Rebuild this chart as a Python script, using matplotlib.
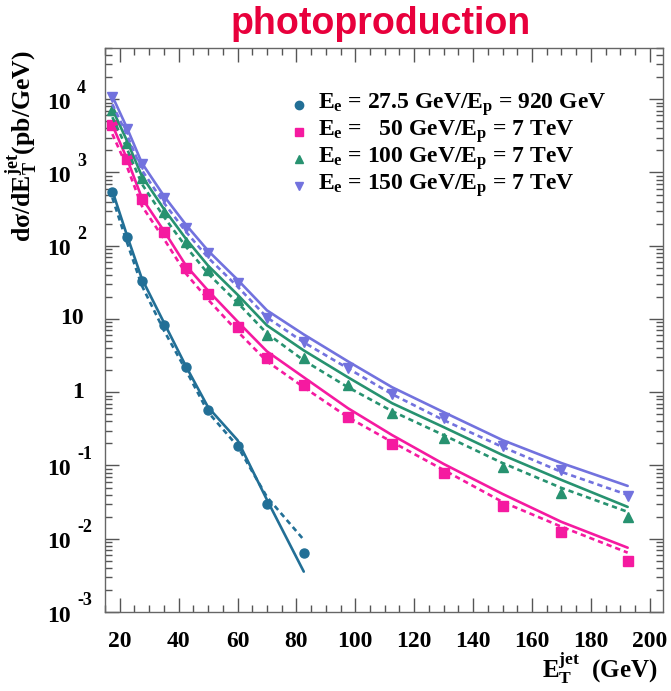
import matplotlib
matplotlib.use("Agg")
import matplotlib.pyplot as plt
from matplotlib.ticker import MultipleLocator, LogLocator, NullFormatter

plt.rcParams["mathtext.fontset"] = "custom"
plt.rcParams["mathtext.rm"] = "Liberation Serif:bold"
plt.rcParams["mathtext.it"] = "Liberation Serif:bold:italic"
plt.rcParams["mathtext.bf"] = "Liberation Serif:bold"

SERIF = "Liberation Serif"

# Jet transverse energy bin centres (GeV)
et_hera = [17.5, 22.5, 27.5, 35, 42.5, 50, 60, 70, 82.5]
et_lhec = [17.5, 22.5, 27.5, 35, 42.5, 50, 60, 70, 82.5, 97.5, 112.5, 130, 150, 170, 192.5]

# Ee = 27.5 GeV / Ep = 920 GeV
hera_pts = [543, 132, 33.4, 8.17, 2.19, 0.569, 0.184, 0.0299, 0.00646]
hera_solid = [562, 137, 35.6, 8.95, 2.26, 0.625, 0.222, 0.0340, 0.00356]
hera_dash = [450, 110, 28.6, 6.98, 1.99, 0.535, 0.184, 0.0372, 0.00968]

# Ee = 50 GeV / Ep = 7 TeV
e50_pts = [4430, 1530, 436, 155, 50.2, 22.2, 7.66, 2.90, 1.245, 0.457, 0.196, 0.0791, 0.0281, 0.0124, 0.00502]
e50_solid = [4430, 1530, 450, 160, 53.5, 24.4, 9.25, 3.61, 1.60, 0.605, 0.260, 0.105, 0.0409, 0.0170, 0.00755]
e50_dash = [3340, 1190, 350, 124, 41.6, 18.4, 6.76, 2.64, 1.17, 0.457, 0.209, 0.0869, 0.0318, 0.0146, 0.00646]

# Ee = 100 GeV / Ep = 7 TeV
e100_pts = [7080, 2520, 841, 290, 113, 47.1, 18.4, 5.97, 2.90, 1.245, 0.518, 0.237, 0.0955, 0.0423, 0.0199]
e100_solid = [7310, 2690, 895, 318, 124, 53.5, 21.5, 8.17, 3.72, 1.60, 0.708, 0.334, 0.139, 0.0635, 0.0272]
e100_dash = [5690, 2090, 698, 248, 96.8, 41.6, 16.7, 6.35, 2.72, 1.17, 0.551, 0.260, 0.108, 0.0494, 0.0233]

# Ee = 150 GeV / Ep = 7 TeV
e150_pts = [10640, 3910, 1310, 450, 176, 80.4, 31.4, 10.2, 4.79, 2.12, 0.940, 0.443, 0.184, 0.0869, 0.0385]
e150_solid = [10990, 4030, 1350, 479, 193, 85.5, 34.4, 13.1, 6.15, 2.64, 1.17, 0.535, 0.222, 0.108, 0.0526]
e150_dash = [8550, 3240, 1080, 385, 155, 68.7, 27.7, 10.5, 4.79, 2.12, 0.940, 0.416, 0.179, 0.0817, 0.0397]

labels = [
    r"E$_{\rm e}$ = 27.5 GeV/E$_{\rm p}$ = 920 GeV",
    r"E$_{\rm e}$ =   50 GeV/E$_{\rm p}$ = 7 TeV",
    r"E$_{\rm e}$ = 100 GeV/E$_{\rm p}$ = 7 TeV",
    r"E$_{\rm e}$ = 150 GeV/E$_{\rm p}$ = 7 TeV",
]
colors = ["#226f96", "#f51aa0", "#279270", "#7272de"]
markers = ["o", "s", "^", "v"]

series = [
    (et_hera, hera_pts, hera_solid, hera_dash),
    (et_lhec, e50_pts, e50_solid, e50_dash),
    (et_lhec, e100_pts, e100_solid, e100_dash),
    (et_lhec, e150_pts, e150_solid, e150_dash),
]

fig = plt.figure(figsize=(6.71, 6.91), dpi=100)
ax = fig.add_axes([105 / 671, 1 - 612 / 691, 558 / 671, 564 / 691])

for (x, pts, solid, dash), c, m in zip(series, colors, markers):
    ax.plot(x, solid, color=c, lw=1.9, solid_capstyle="round")
    ax.plot(x, dash, color=c, lw=1.9, ls=(0, (2.0, 1.5)))
    ax.plot(x, pts, ls="none", marker=m, color=c, ms=6.5, mec=c)

ax.set_yscale("log")
ax.set_xlim(15, 204.5)
ax.set_ylim(1e-3, 5e4)

ax.xaxis.set_major_locator(MultipleLocator(20))
ax.xaxis.set_minor_locator(MultipleLocator(5))
ax.yaxis.set_major_locator(LogLocator(base=10, numticks=20))
ax.yaxis.set_minor_locator(LogLocator(base=10, subs=range(2, 10), numticks=20))
ax.yaxis.set_major_formatter(NullFormatter())
ax.yaxis.set_minor_formatter(NullFormatter())

ax.tick_params(which="both", direction="in", top=True, right=True, color="#555555", width=1.0)
ax.tick_params(which="major", length=10)
ax.tick_params(which="minor", length=5)
ax.tick_params(axis="x", which="major", pad=14, labelsize=17)
for lab in ax.get_xticklabels():
    lab.set_fontfamily(SERIF)
    lab.set_fontweight("bold")
for sp in ax.spines.values():
    sp.set_color("#666666")
    sp.set_linewidth(1.0)

# ROOT-style decade labels: "10" with a raised exponent
for d in range(-3, 5):
    val = 10.0 ** d
    if d in (0, 1):
        ax.annotate(str(int(val)), xy=(0, val), xycoords=("axes fraction", "data"),
                    xytext=(-15, 0), textcoords="offset points", ha="right", va="center",
                    fontsize=17, fontfamily=SERIF, fontweight="bold")
    else:
        ax.annotate("10", xy=(0, val), xycoords=("axes fraction", "data"),
                    xytext=(-25, -3), textcoords="offset points", ha="right", va="center",
                    fontsize=17, fontfamily=SERIF, fontweight="bold")
        ax.annotate(str(d), xy=(0, val), xycoords=("axes fraction", "data"),
                    xytext=(-20, 8), textcoords="offset points", ha="left", va="center",
                    fontsize=13, fontfamily=SERIF, fontweight="bold")

# Legend with markers only
for i, (lab, c, m) in enumerate(zip(labels, colors, markers)):
    yy = 0.899 - i * 0.0479
    ax.plot([0.348], [yy], transform=ax.transAxes, marker=m, color=c, ms=6, ls="none", clip_on=False)
    ax.text(0.382, yy, lab, transform=ax.transAxes, ha="left", va="center",
            fontsize=17, fontfamily=SERIF, fontweight="bold")

fig.text(658 / 671, 1 - 678 / 691, r"E$_{\rm T}^{\rm jet}$  (GeV)", ha="right", va="baseline",
         fontsize=18, fontfamily=SERIF, fontweight="bold")
fig.text(22 / 671, 1 - 50 / 691, "dσ/dE$_{\\rm T}^{\\rm jet}$(pb/GeV)", rotation=90,
         ha="center", va="top", fontsize=18.5, fontfamily=SERIF, fontweight="bold")
fig.text(381 / 671, 1 - 34 / 691, "photoproduction", ha="center", va="baseline",
         fontsize=27, fontfamily="Liberation Sans", fontweight="bold", color="#e8003c")

fig.savefig("out.png", dpi=100)
